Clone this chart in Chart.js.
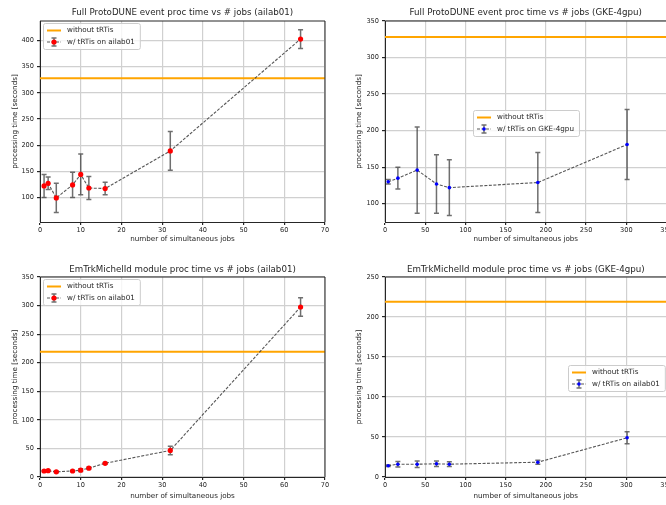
<!DOCTYPE html>
<html>
<head>
<meta charset="utf-8">
<script src="https://cdn.jsdelivr.net/npm/chart.js@4.4.0/dist/chart.umd.min.js"></script>
<style>
  html, body { margin: 0; padding: 0; background: #fff; overflow: hidden; }
  #page { position: relative; width: 666px; height: 505px; overflow: hidden; }
  canvas { position: absolute; }
</style>
</head>
<body>
<div id="page">
  <canvas id="fullAilabChart" width="333" height="250" style="left:0;top:0"></canvas>
  <canvas id="fullGkeChart" width="380" height="250" style="left:333px;top:0"></canvas>
  <canvas id="michelAilabChart" width="333" height="255" style="left:0;top:250px"></canvas>
  <canvas id="michelGkeChart" width="380" height="255" style="left:333px;top:250px"></canvas>
</div>
<script>
// number of simultaneous jobs
const jobsAilab = [1, 2, 4, 8, 10, 12, 16, 32, 64];
const jobsGke = [4, 16, 40, 64, 80, 190, 301];

// full ProtoDUNE event, processing time [s]
const fullAilab = [122, 127, 99, 124, 144, 118, 117, 189, 403];
const fullAilabErr = [22, 12, 28, 24, 39, 22, 12, 37, 18];
const fullGke = [130, 135, 146, 127, 122, 129, 181];
const fullGkeErr = [3, 15, 59, 40, 38, 41, 48];

// EmTrkMichelId module, processing time [s]
const michelAilab = [10.5, 11, 9, 10.5, 12, 15.5, 24, 46.5, 297.5];
const michelAilabErr = [1, 1, 1, 1, 2.5, 1.5, 1.5, 7.5, 16];
const michelGke = [14, 16, 16, 16.5, 16, 18.5, 49];
const michelGkeErr = [1, 3.5, 4, 3.5, 3, 2.5, 7.5];

// without tRTis reference
const noTrtisFull = 328;
const noTrtisMichel = 219;

// tick labels
const xTicksAilab = [0, 10, 20, 30, 40, 50, 60, 70];
const xTicksGke = [0, 50, 100, 150, 200, 250, 300, 350];
const yTicksFullAilab = [100, 150, 200, 250, 300, 350, 400];
const yTicksFullGke = [100, 150, 200, 250, 300, 350];
const yTicksMichelAilab = [0, 50, 100, 150, 200, 250, 300, 350];
const yTicksMichelGke = [0, 50, 100, 150, 200, 250];

const FONT = 'DejaVu Sans';
const INK = '#262626';
const ORANGE = '#ffa500';
const DASH = 'rgba(45,45,45,0.8)';
const BAR = 'rgba(55,55,55,0.72)';

// vertical error bars with caps, drawn under the markers
const errorBars = {
  id: 'errorBars',
  beforeDatasetsDraw(chart, args, opts) {
    const ctx = chart.ctx;
    const xs = chart.scales.x, ys = chart.scales.y;
    const pts = chart.data.datasets[0].data;
    ctx.save();
    ctx.strokeStyle = BAR;
    ctx.lineWidth = 1.5;
    pts.forEach((p, i) => {
      const x = xs.getPixelForValue(p.x);
      const lo = ys.getPixelForValue(p.y - opts.err[i]);
      const hi = ys.getPixelForValue(p.y + opts.err[i]);
      ctx.beginPath();
      ctx.moveTo(x, lo); ctx.lineTo(x, hi);
      ctx.moveTo(x - 2.5, lo); ctx.lineTo(x + 2.5, lo);
      ctx.moveTo(x - 2.5, hi); ctx.lineTo(x + 2.5, hi);
      ctx.stroke();
    });
    ctx.restore();
  }
};

// top/right spines, title and the in-axes legend
const frame = {
  id: 'frame',
  afterDraw(chart, args, opts) {
    const ctx = chart.ctx;
    const a = chart.chartArea;
    ctx.save();
    ctx.strokeStyle = INK;
    ctx.lineWidth = 1;
    ctx.beginPath();
    ctx.moveTo(a.left, a.top); ctx.lineTo(a.right, a.top); ctx.lineTo(a.right, a.bottom);
    ctx.stroke();

    ctx.fillStyle = INK;
    ctx.font = `8.7px ${FONT}`;
    ctx.textAlign = 'center';
    ctx.textBaseline = 'middle';
    ctx.fillText(opts.title, (a.left + a.right) / 2, opts.titleY);

    // legend
    const lg = opts.legend;
    ctx.font = `7.2px ${FONT}`;
    const w = 24 + Math.max(...lg.labels.map(t => ctx.measureText(t).width)) + 5;
    ctx.beginPath();
    if (ctx.roundRect) ctx.roundRect(lg.left + 0.5, lg.top + 0.5, w, 26, 2);
    else ctx.rect(lg.left + 0.5, lg.top + 0.5, w, 26);
    ctx.fillStyle = 'rgba(255,255,255,0.8)';
    ctx.fill();
    ctx.strokeStyle = '#cccccc';
    ctx.stroke();

    const x0 = lg.left + 4, x1 = lg.left + 18, xm = (x0 + x1) / 2;
    const r1 = lg.top + 7.5, r2 = lg.top + 19;
    ctx.strokeStyle = ORANGE;
    ctx.lineWidth = 2;
    ctx.beginPath(); ctx.moveTo(x0, r1); ctx.lineTo(x1, r1); ctx.stroke();

    ctx.strokeStyle = DASH;
    ctx.lineWidth = 1.1;
    ctx.setLineDash([3, 1.5]);
    ctx.beginPath(); ctx.moveTo(x0, r2); ctx.lineTo(x1, r2); ctx.stroke();
    ctx.setLineDash([]);
    ctx.strokeStyle = BAR;
    ctx.lineWidth = 1.5;
    ctx.beginPath();
    ctx.moveTo(xm, r2 - 4); ctx.lineTo(xm, r2 + 4);
    ctx.moveTo(xm - 2.5, r2 - 4); ctx.lineTo(xm + 2.5, r2 - 4);
    ctx.moveTo(xm - 2.5, r2 + 4); ctx.lineTo(xm + 2.5, r2 + 4);
    ctx.stroke();
    ctx.fillStyle = lg.color;
    ctx.beginPath(); ctx.arc(xm, r2, lg.dot, 0, Math.PI * 2); ctx.fill();

    ctx.fillStyle = INK;
    ctx.textAlign = 'left';
    ctx.fillText(lg.labels[0], lg.left + 24, r1);
    ctx.fillText(lg.labels[1], lg.left + 24, r2);
    ctx.restore();
  }
};

function makeChart(id, cfg) {
  const tickFont = { family: FONT, size: 6.6 };
  const labelFont = { family: FONT, size: 7.2 };
  new Chart(document.getElementById(id), {
    type: 'line',
    data: {
      datasets: [
        {
          data: cfg.jobs.map((x, i) => ({ x: x, y: cfg.times[i] })),
          borderColor: DASH,
          borderWidth: 1.1,
          borderDash: [3, 1.5],
          pointRadius: cfg.dot,
          pointBackgroundColor: cfg.color,
          pointBorderWidth: 0,
          fill: false,
          tension: 0
        },
        {
          data: [{ x: cfg.xLim[0], y: cfg.ref }, { x: cfg.xLim[1], y: cfg.ref }],
          borderColor: ORANGE,
          borderWidth: 2,
          pointRadius: 0,
          fill: false
        }
      ]
    },
    options: {
      responsive: false,
      animation: false,
      devicePixelRatio: 1,
      layout: { padding: cfg.pad },
      plugins: {
        legend: { display: false },
        tooltip: { enabled: false },
        errorBars: { err: cfg.err },
        frame: {
          title: cfg.title,
          titleY: cfg.titleY,
          legend: { left: cfg.legendPos[0], top: cfg.legendPos[1], labels: ['without tRTis', cfg.seriesLabel], color: cfg.color, dot: cfg.dot }
        }
      },
      scales: {
        x: {
          type: 'linear',
          min: cfg.xLim[0],
          max: cfg.xLim[1],
          afterBuildTicks: s => { s.ticks = cfg.xTicks.map(v => ({ value: v })); },
          afterFit: s => { s.height = 28; },
          grid: { color: '#d0d0d0', lineWidth: 1.2, tickColor: INK, tickLength: 3 },
          border: { color: INK, width: 1 },
          ticks: { font: tickFont, color: INK, padding: 1, maxRotation: 0, autoSkip: false },
          title: { display: true, text: 'number of simultaneous jobs', font: labelFont, color: INK, padding: { top: 0, bottom: cfg.xTitlePad } }
        },
        y: {
          type: 'linear',
          min: cfg.yLim[0],
          max: cfg.yLim[1],
          afterBuildTicks: s => { s.ticks = cfg.yTicks.map(v => ({ value: v })); },
          afterFit: s => { s.width = cfg.yWidth; },
          grid: { color: '#d0d0d0', lineWidth: 1.2, tickColor: INK, tickLength: 3 },
          border: { color: INK, width: 1 },
          ticks: { font: tickFont, color: INK, padding: 3, autoSkip: false },
          title: { display: true, text: 'processing time [seconds]', font: labelFont, color: INK, padding: { top: cfg.yTitlePad, bottom: 0 } }
        }
      }
    },
    plugins: [errorBars, frame]
  });
}

makeChart('fullAilabChart', {
  title: 'Full ProtoDUNE event proc time vs # jobs (ailab01)', titleY: 13,
  jobs: jobsAilab, times: fullAilab, err: fullAilabErr, ref: noTrtisFull,
  color: '#ff0000', dot: 2.6, seriesLabel: 'w/ tRTis on ailab01',
  xLim: [0, 70], yLim: [53, 437.5], xTicks: xTicksAilab, yTicks: yTicksFullAilab,
  pad: { top: 21, right: 8, bottom: 0, left: 0 }, yWidth: 40, yTitlePad: 10.7, xTitlePad: 6.7,
  legendPos: [43, 23]
});

makeChart('fullGkeChart', {
  title: 'Full ProtoDUNE event proc time vs # jobs (GKE-4gpu)', titleY: 13,
  jobs: jobsGke, times: fullGke, err: fullGkeErr, ref: noTrtisFull,
  color: '#0000ff', dot: 1.8, seriesLabel: 'w/ tRTis on GKE-4gpu',
  xLim: [0, 350], yLim: [75, 350], xTicks: xTicksGke, yTicks: yTicksFullGke,
  pad: { top: 21, right: 46.5, bottom: 0, left: 0 }, yWidth: 52, yTitlePad: 21.7, xTitlePad: 6.7,
  legendPos: [140, 110]
});

makeChart('michelAilabChart', {
  title: 'EmTrkMichelId module proc time vs # jobs (ailab01)', titleY: 20,
  jobs: jobsAilab, times: michelAilab, err: michelAilabErr, ref: noTrtisMichel,
  color: '#ff0000', dot: 2.6, seriesLabel: 'w/ tRTis on ailab01',
  xLim: [0, 70], yLim: [0, 350], xTicks: xTicksAilab, yTicks: yTicksMichelAilab,
  pad: { top: 27, right: 8, bottom: 0, left: 0 }, yWidth: 40, yTitlePad: 10.7, xTitlePad: 5,
  legendPos: [43, 29]
});

makeChart('michelGkeChart', {
  title: 'EmTrkMichelId module proc time vs # jobs (GKE-4gpu)', titleY: 20,
  jobs: jobsGke, times: michelGke, err: michelGkeErr, ref: noTrtisMichel,
  color: '#0000ff', dot: 1.8, seriesLabel: 'w/ tRTis on ailab01',
  xLim: [0, 350], yLim: [0, 250], xTicks: xTicksGke, yTicks: yTicksMichelGke,
  pad: { top: 27, right: 46.5, bottom: 0, left: 0 }, yWidth: 52, yTitlePad: 21.7, xTitlePad: 5,
  legendPos: [235, 115]
});
</script>
</body>
</html>
